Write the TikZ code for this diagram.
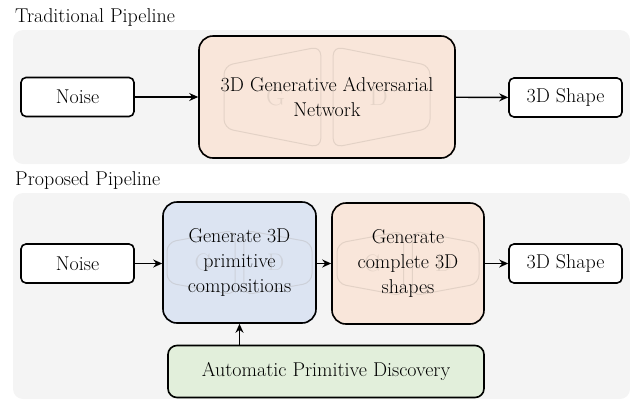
\documentclass[tikz,border=0pt]{standalone}
\usetikzlibrary{arrows.meta,calc}
\definecolor{panelgray}{RGB}{244,244,244}
\definecolor{ganfill}{RGB}{249,230,218}
\definecolor{bluefill}{RGB}{220,228,242}
\definecolor{greenfill}{RGB}{226,239,219}
\definecolor{wmcol}{RGB}{150,140,130}
\pgfdeclarelayer{panels}
\pgfdeclarelayer{fills}
\pgfdeclarelayer{marks}
\pgfsetlayers{panels,fills,marks,main}
\newcommand{\gdmark}[4]{% node, half-width, height, letter size
  \begin{scope}[shift={(#1.center)}, xscale=#2, yscale=#3]
    \draw[wmcol, draw opacity=0.22, line width=1pt, rounded corners=9pt]
      (-1,-0.31) -- (-0.06,-0.5) -- (-0.06,0.5) -- (-1,0.31) -- cycle;
    \draw[wmcol, draw opacity=0.22, line width=1pt, rounded corners=9pt]
      (1,-0.31) -- (0.06,-0.5) -- (0.06,0.5) -- (1,0.31) -- cycle;
    \node[text=wmcol, text opacity=0.2, font=\fontsize{#4}{#4}\selectfont] (#1G) at (-0.5,0) {G};
    \node[text=wmcol, text opacity=0.2, font=\fontsize{#4}{#4}\selectfont] (#1D) at (0.5,0) {D};
  \end{scope}}
\newcommand{\boxfill}[3]{% node, colour, radius
  \fill[#2, rounded corners=#3] (#1.north west) rectangle (#1.south east);}
\tikzset{
  every node/.style={font=\fontsize{20}{25}\selectfont},
  smallbox/.style={draw, line width=1.6pt, rounded corners=5pt, fill=white,
    minimum width=113pt, minimum height=39pt, inner sep=0pt, align=center},
  bigbox/.style={draw, line width=1.6pt, rounded corners=14pt, inner sep=0pt, align=center},
  panel/.style={fill=panelgray, rounded corners=10pt},
  title/.style={anchor=base west, inner sep=0pt},
  conn/.style={line width=1.4pt, -{Stealth[length=9pt,width=8pt,inset=3pt]}}
}
\begin{document}
\begin{tikzpicture}[x=1pt,y=-1pt]
\useasboundingbox (0,0) rectangle (630,400);
% panels
\begin{pgfonlayer}{panels}
\fill[panel] (13,30) rectangle (630,164);
\fill[panel] (13,193) rectangle (630,399);
\end{pgfonlayer}
% titles
\node[title] (t1) at (15,22) {Traditional Pipeline};
\node[title] (t2) at (15,185) {Proposed Pipeline};
% top row
\node[smallbox] (noise1) at (77.5,97) {Noise};
\node[bigbox, minimum width=256pt, minimum height=122pt] (gan) at (327,97)
  {3D Generative Adversarial\\Network};
\node[smallbox] (shape1) at (565.5,97.5) {3D Shape};
\draw[conn] (noise1) -- (gan);
\draw[conn] (gan) -- (shape1);
% bottom row
\node[smallbox] (noise2) at (77.5,263.5) {Noise};
\node[bigbox, minimum width=153pt, minimum height=121pt] (prim) at (239.5,262.5)
  {Generate 3D\\primitive\\compositions};
\node[bigbox, minimum width=152pt, minimum height=121pt] (full) at (408,263.5)
  {Generate\\complete 3D\\shapes};
\node[smallbox] (shape2) at (565.5,263.5) {3D Shape};
\node[bigbox, rounded corners=9pt, minimum width=316pt, minimum height=52pt]
  (disc) at (326,371.5) {Automatic Primitive Discovery};
\draw[conn] (noise2) -- (noise2 -| prim.west);
\draw[conn] (prim.east |- full.west) -- (full.west);
\draw[conn] (full) -- (shape2);
\draw[conn] (disc.north -| prim.south) -- (prim.south);
% fills and watermarks
\begin{pgfonlayer}{fills}
\boxfill{gan}{ganfill}{14pt}
\boxfill{prim}{bluefill}{14pt}
\boxfill{full}{ganfill}{14pt}
\boxfill{disc}{greenfill}{9pt}
\end{pgfonlayer}
\begin{pgfonlayer}{marks}
\gdmark{gan}{103}{101}{26}
\gdmark{prim}{72.5}{65}{24}
\gdmark{full}{71}{65}{24}
\end{pgfonlayer}
\end{tikzpicture}
\end{document}
